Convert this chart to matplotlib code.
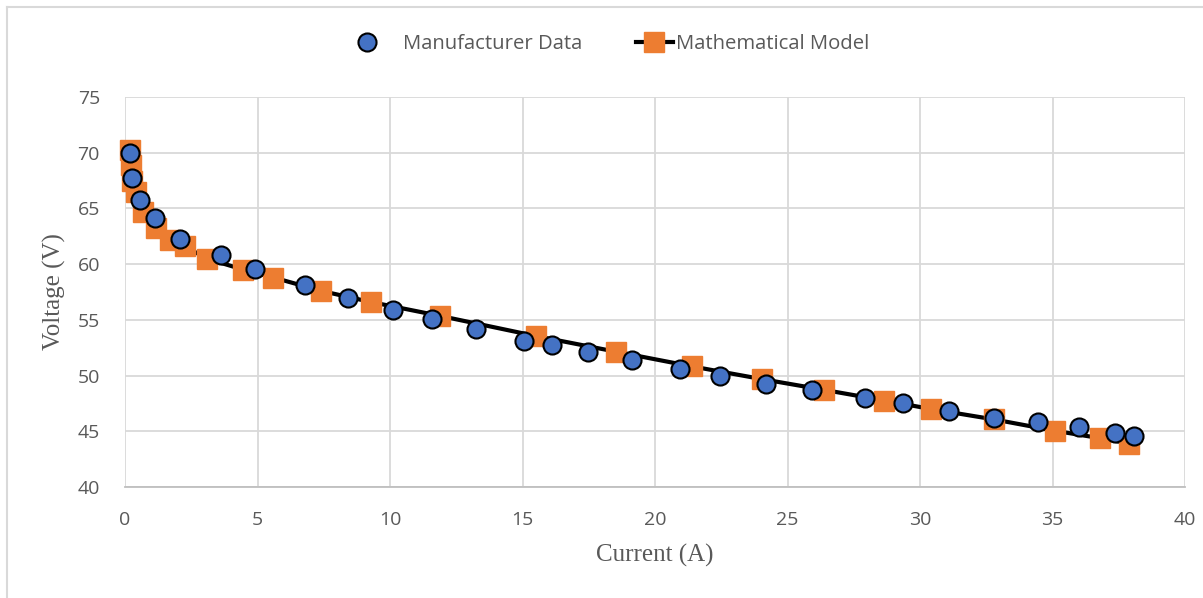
import matplotlib.pyplot as plt
from matplotlib.lines import Line2D

# Manufacturer data (circles)
current_data = [0.19, 0.28, 0.57, 1.13, 2.08, 3.61, 4.9, 6.79, 8.4, 10.1, 11.58, 13.25, 15.07, 16.12,
                17.46, 19.14, 20.95, 22.47, 24.17, 25.94, 27.92, 29.35, 31.09, 32.81, 34.44, 35.99,
                37.34, 38.06]
voltage_data = [69.95, 67.7, 65.75, 64.1, 62.3, 60.82, 59.6, 58.1, 56.97, 55.92, 55.05, 54.2, 53.12, 52.7,
                52.1, 51.39, 50.55, 49.93, 49.25, 48.75, 48.0, 47.52, 46.85, 46.22, 45.87, 45.42,
                44.82, 44.58]

# Mathematical model (squares + line)
current_model = [0.19, 0.23, 0.26, 0.42, 0.68, 1.17, 1.7, 2.26, 3.08, 4.47, 5.6, 7.4, 9.28, 11.9,
                 15.5, 18.53, 21.38, 24.04, 26.37, 28.66, 30.41, 32.78, 35.08, 36.8, 37.9]
voltage_model = [70.2, 68.9, 67.5, 66.5, 64.7, 63.2, 62.2, 61.6, 60.5, 59.5, 58.8, 57.6, 56.6, 55.35,
                 53.55, 52.14, 50.83, 49.68, 48.72, 47.76, 47.0, 46.07, 45.05, 44.38, 43.9]

x_ticks = [0, 5, 10, 15, 20, 25, 30, 35, 40]
y_ticks = [40, 45, 50, 55, 60, 65, 70, 75]

blue = '#4472C4'
orange = '#ED7D31'
text_gray = '#595959'
grid_gray = '#d9d9d9'

fig = plt.figure(figsize=(12.03, 5.98), dpi=100)
ax = fig.add_axes([125 / 1203, 1 - 487 / 598, (1185 - 125) / 1203, (487 - 97) / 598])

ax.plot(current_model, voltage_model, color='black', linewidth=3, marker='s', markersize=14,
        markerfacecolor=orange, markeredgecolor=orange, zorder=3, clip_on=False)
ax.plot(current_data, voltage_data, linestyle='none', marker='o', markersize=13,
        markerfacecolor=blue, markeredgecolor='black', markeredgewidth=1.5, zorder=4, clip_on=False)

ax.set_xlim(0, 40)
ax.set_ylim(40, 75)
ax.set_xticks(x_ticks)
ax.set_yticks(y_ticks)
ax.grid(True, color=grid_gray, linewidth=1.3, zorder=0)
ax.set_axisbelow(True)
for s in ['top', 'right', 'left']:
    ax.spines[s].set_visible(False)
ax.spines['bottom'].set_color('#bfbfbf')
ax.spines['bottom'].set_linewidth(1.3)
ax.tick_params(length=0, labelsize=14, labelcolor=text_gray)
ax.tick_params(axis='x', pad=17)
ax.tick_params(axis='y', pad=18)
for lab in ax.get_xticklabels() + ax.get_yticklabels():
    lab.set_family('Open Sans')

ax.set_xlabel('Current (A)', family='Liberation Serif', fontsize=18, color=text_gray, labelpad=11)
ax.set_ylabel('Voltage (V)', family='Liberation Serif', fontsize=18, color=text_gray, labelpad=8)

# legend (two entries placed side by side)
h1 = Line2D([], [], linestyle='none', marker='o', markersize=13, markerfacecolor=blue,
            markeredgecolor='black', markeredgewidth=1.5)
h2 = Line2D([], [], color='black', linewidth=3, marker='s', markersize=14,
            markerfacecolor=orange, markeredgecolor=orange)
fig.legend([h1], ['Manufacturer Data'], loc='center left', bbox_to_anchor=(337 / 1203, 1 - 44 / 598),
           frameon=False, handlelength=2.0, handletextpad=0.75, borderpad=0,
           prop={'family': 'Open Sans', 'size': 14.6}, labelcolor=text_gray)
fig.legend([h2], ['Mathematical Model'], loc='center left', bbox_to_anchor=(626 / 1203, 1 - 44 / 598),
           frameon=False, handlelength=1.8, handletextpad=0.15, borderpad=0,
           prop={'family': 'Open Sans', 'size': 14.6}, labelcolor=text_gray)

# outer chart border
fig.add_artist(Line2D([7 / 1203, 7 / 1203], [0, 1 - 7 / 598], color=grid_gray, linewidth=1.5))
fig.add_artist(Line2D([7 / 1203, 1], [1 - 7 / 598, 1 - 7 / 598], color=grid_gray, linewidth=1.5))

fig.savefig('out.png', dpi=100)
